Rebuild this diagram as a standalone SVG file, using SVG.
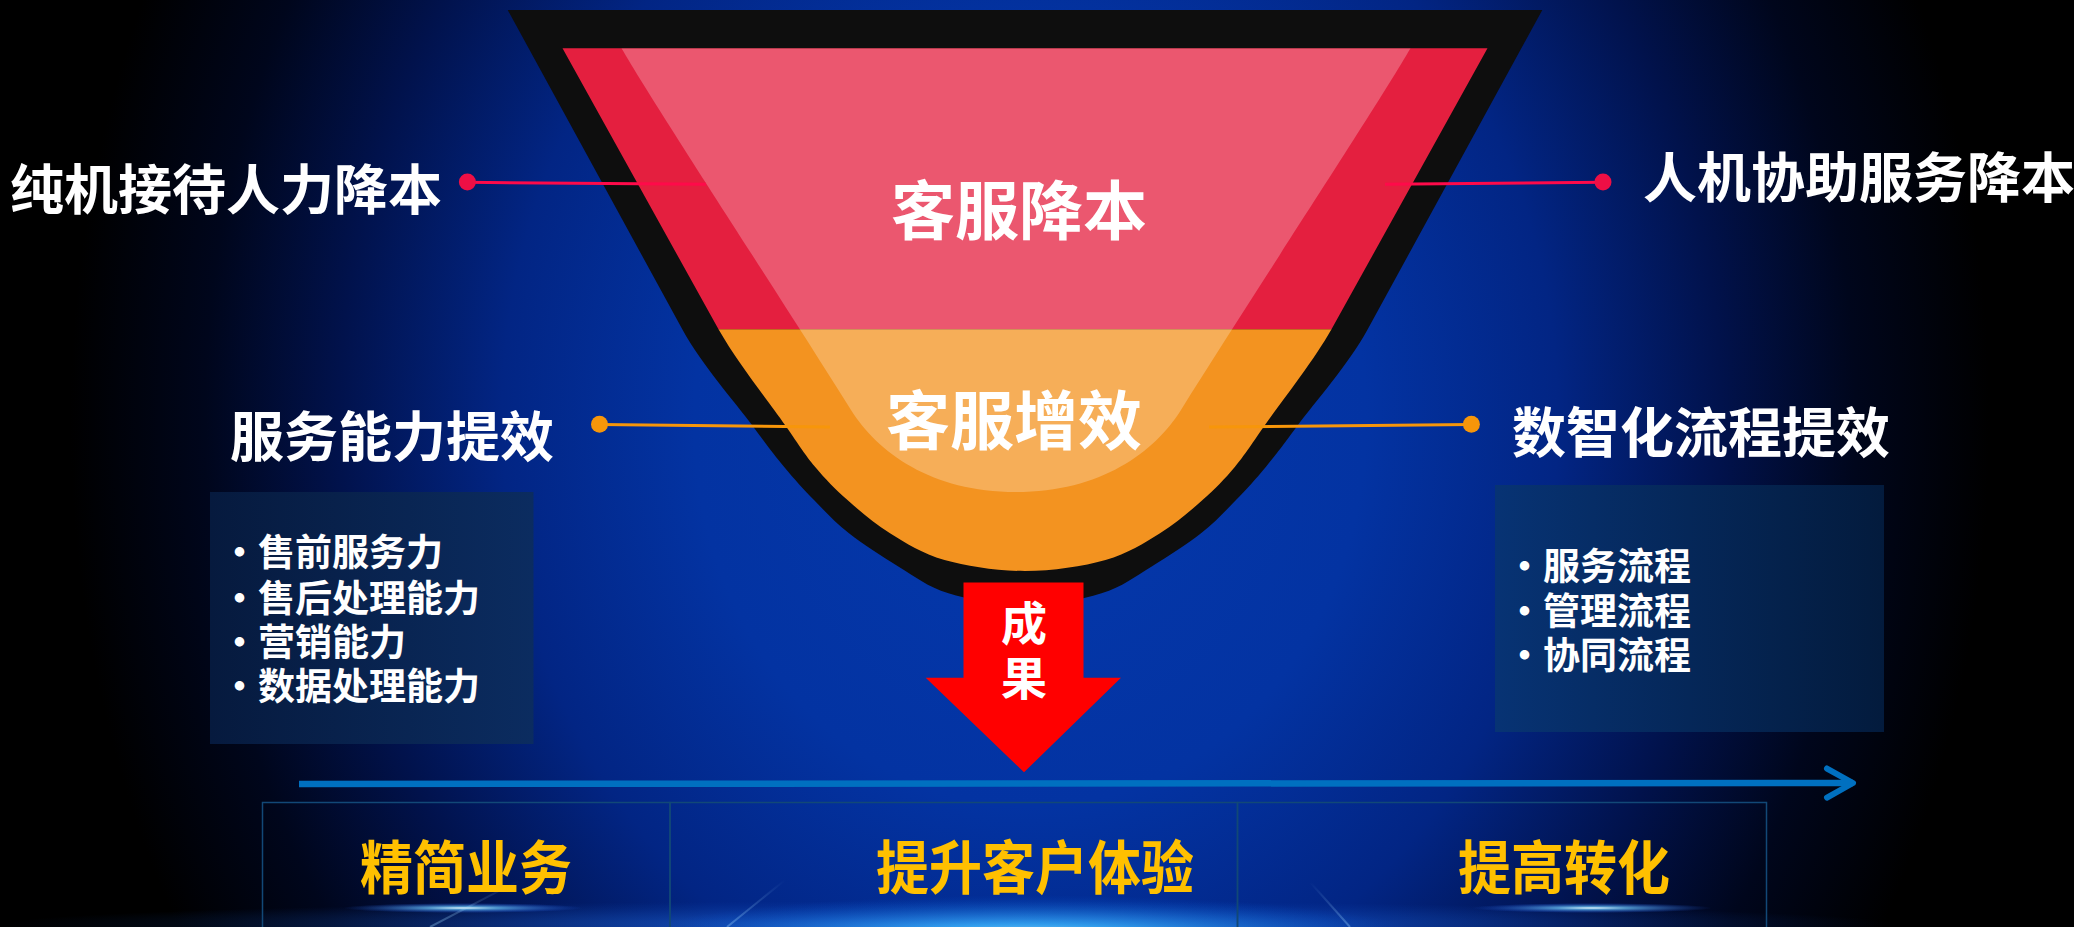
<svg xmlns="http://www.w3.org/2000/svg" width="2074" height="927" viewBox="0 0 2074 927">
<defs>
<style>
.t{font-family:'Noto Sans CJK SC','Noto Sans',sans-serif;font-weight:700;}
.w54{fill:#fff;font-size:54px;}
.w64{fill:#fff;font-size:64px;text-anchor:middle;}
.b37{fill:#fff;font-size:37px;}
.gold{fill:#FFC000;font-size:53px;text-anchor:middle;}
.cr{stroke:#FF0A4A;stroke-width:3;fill:none;}
.co{stroke:#F7960A;stroke-width:3;fill:none;}
.bx{fill:none;stroke:#124877;stroke-width:1.5;}
</style>
<radialGradient id="bg" gradientUnits="userSpaceOnUse" cx="1030" cy="420" r="960" gradientTransform="translate(1030 420) scale(1 1.15) translate(-1030 -420)">
<stop offset="0" stop-color="#0539ad"/>
<stop offset="0.35" stop-color="#0333a2"/>
<stop offset="0.55" stop-color="#022584"/>
<stop offset="0.72" stop-color="#01124c"/>
<stop offset="0.86" stop-color="#00061c"/>
<stop offset="1" stop-color="#000"/>
</radialGradient>
<linearGradient id="boxL" x1="0" y1="0" x2="1" y2="0">
<stop offset="0" stop-color="#061a3e"/>
<stop offset="1" stop-color="#0b2c60"/>
</linearGradient>
<linearGradient id="boxR" x1="0" y1="0" x2="1" y2="0">
<stop offset="0" stop-color="#073374"/>
<stop offset="1" stop-color="#031b3d"/>
</linearGradient>
<radialGradient id="glowC">
<stop offset="0" stop-color="#c8f6ff" stop-opacity="0.95"/>
<stop offset="0.35" stop-color="#3cbcff" stop-opacity="0.7"/>
<stop offset="1" stop-color="#0050d0" stop-opacity="0"/>
</radialGradient>
<radialGradient id="glowB">
<stop offset="0" stop-color="#2a7cf0" stop-opacity="0.55"/>
<stop offset="1" stop-color="#1050c0" stop-opacity="0"/>
</radialGradient>
<radialGradient id="flare">
<stop offset="0" stop-color="#e8fbff" stop-opacity="1"/>
<stop offset="0.3" stop-color="#6cc8ff" stop-opacity="0.7"/>
<stop offset="1" stop-color="#2060ff" stop-opacity="0"/>
</radialGradient>
<linearGradient id="streak" x1="0" y1="1" x2="0" y2="0">
<stop offset="0" stop-color="#9fd8ff" stop-opacity="0.35"/>
<stop offset="1" stop-color="#9fd8ff" stop-opacity="0"/>
</linearGradient>
<clipPath id="innerClip">
<path d="M-462.5,48.3 L462.5,48.3 L306.5,329.3 C287.2,363.1 256,402.1 240,425 C224,447.9 220.4,454.2 210,466.7 C199.6,479.2 190,488.9 177.5,500 C165,511.1 151.2,523.3 135,533.3 C118.8,543.3 103,553.7 80.5,560 C58,566.3 28,571 0,571 C-28,571 -58,566.3 -80.5,560 C-103,553.7 -118.8,543.3 -135,533.3 C-151.2,523.3 -165,511.1 -177.5,500 C-190,488.9 -199.6,479.2 -210,466.7 C-220.4,454.2 -224,447.9 -240,425 C-256,402.1 -287.2,363.1 -306.5,329.3 Z"/>
</clipPath>
<marker id="chev" markerUnits="userSpaceOnUse" viewBox="0 0 34 36" refX="30" refY="18" markerWidth="34" markerHeight="36" orient="auto">
<path d="M4,3.5 L30,18 L4,32.5" fill="none" stroke="#0070C0" stroke-width="6" stroke-linecap="round" stroke-linejoin="round"/>
</marker>
</defs>

<g id="background">
<rect x="0" y="0" width="2074" height="927" fill="url(#bg)"/>
<ellipse cx="950" cy="925" rx="950" ry="24" fill="url(#glowB)"/>
<ellipse cx="1030" cy="940" rx="400" ry="45" fill="url(#glowC)"/>
<ellipse cx="463" cy="908" rx="120" ry="5" fill="url(#flare)"/>
<ellipse cx="1592" cy="908" rx="120" ry="5" fill="url(#flare)"/>
<path d="M727,927 L785,880" stroke="url(#streak)" stroke-width="2"/>
<path d="M1350,927 L1310,882" stroke="url(#streak)" stroke-width="2"/>
<path d="M430,927 L520,880" stroke="url(#streak)" stroke-width="2"/>
</g>

<g id="bottom-boxes">
<rect class="bx" x="262.5" y="802.5" width="407.5" height="140"/>
<rect class="bx" x="670" y="802.5" width="567.5" height="140"/>
<rect class="bx" x="1237.5" y="802.5" width="529" height="140"/>
</g>

<g id="funnel" transform="translate(1025,0)">
<path fill="#0E0E0E" d="M-517.3,10 L517.3,10 L342.3,330 C323.6,364.2 289.9,402.2 273,425 C256.1,447.8 251.3,454.2 241,466.7 C230.7,479.2 221.8,488.9 211,500 C200.2,511.1 190.1,522.2 176,533.3 C161.9,544.4 142.9,556.7 126.3,566.7 C109.7,576.7 97.6,586.8 76.5,593.3 C55.4,599.9 25,606 0,606 C-25,606 -55.4,599.9 -76.5,593.3 C-97.6,586.8 -109.7,576.7 -126.3,566.7 C-142.9,556.7 -161.9,544.4 -176,533.3 C-190.1,522.2 -200.2,511.1 -211,500 C-221.8,488.9 -230.7,479.2 -241,466.7 C-251.3,454.2 -256.1,447.8 -273,425 C-289.9,402.2 -323.6,364.2 -342.3,330 Z"/>
<g clip-path="url(#innerClip)">
<rect x="-480" y="40" width="960" height="289.3" fill="#E41F3F"/>
<rect x="-480" y="329.3" width="960" height="260" fill="#F39320"/>
<path transform="translate(-9,0)" fill="#fff" fill-opacity="0.25" d="M-394.5,48.3 L394.5,48.3 C360,108 240,290 165,410 C138.3,452.3 85,492 0,492 C-85,492 -138.3,452.3 -165,410 C-240,290 -360,108 -394.5,48.3 Z"/>
</g>
</g>

<g id="connectors">
<line class="cr" x1="467" y1="182.3" x2="706" y2="184.2"/>
<circle cx="467.4" cy="182" r="8.5" fill="#EE0F45"/>
<line class="cr" x1="1385" y1="184.2" x2="1603" y2="182.3"/>
<circle cx="1603" cy="182" r="8.5" fill="#EE0F45"/>
<line class="co" x1="599.5" y1="424.5" x2="830" y2="427"/>
<circle cx="599.5" cy="424.3" r="8.5" fill="#F7960A"/>
<line class="co" x1="1209" y1="427" x2="1471" y2="424.5"/>
<circle cx="1471.4" cy="424.3" r="8.5" fill="#F7960A"/>
</g>

<g id="funnel-labels">
<text class="t w64" x="1019" y="234">客服降本</text>
<text class="t w64" x="1014" y="443.5">客服增效</text>
</g>

<g id="label-left-top"><text class="t w54" x="10" y="210">纯机接待人力降本</text></g>
<g id="label-right-top"><text class="t w54" x="1643" y="198">人机协助服务降本</text></g>
<g id="label-left-mid"><text class="t w54" x="230" y="457">服务能力提效</text></g>
<g id="label-right-mid"><text class="t w54" x="1512" y="453">数智化流程提效</text></g>

<g id="box-left">
<rect x="210" y="492" width="323.5" height="252" fill="url(#boxL)"/>
<text class="t b37" x="221" y="566">•售前服务力</text>
<text class="t b37" x="221" y="611.5">•售后处理能力</text>
<text class="t b37" x="221" y="656">•营销能力</text>
<text class="t b37" x="221" y="700">•数据处理能力</text>
</g>

<g id="box-right">
<rect x="1495" y="485" width="389" height="247" fill="url(#boxR)"/>
<text class="t b37" x="1506" y="579.5">•服务流程</text>
<text class="t b37" x="1506" y="624.5">•管理流程</text>
<text class="t b37" x="1506" y="669">•协同流程</text>
</g>

<g id="result-arrow">
<polygon points="963.5,582.5 1083.5,582.5 1083.5,677.7 1121,677.7 1024,772.3 925.7,677.7 963.5,677.7" fill="#FF0000"/>
<text class="t" x="1024" y="640" fill="#fff" font-size="46" text-anchor="middle">成</text>
<text class="t" x="1024" y="695" fill="#fff" font-size="46" text-anchor="middle">果</text>
</g>

<g id="timeline">
<line x1="299" y1="784" x2="1853" y2="783" stroke="#0070C0" stroke-width="6.5" marker-end="url(#chev)"/>
</g>

<g id="outcomes">
<text class="t gold" transform="translate(466,889) scale(1,1.1)">精简业务</text>
<text class="t gold" transform="translate(1035,889) scale(1,1.1)">提升客户体验</text>
<text class="t gold" transform="translate(1564,889) scale(1,1.1)">提高转化</text>
</g>
</svg>
